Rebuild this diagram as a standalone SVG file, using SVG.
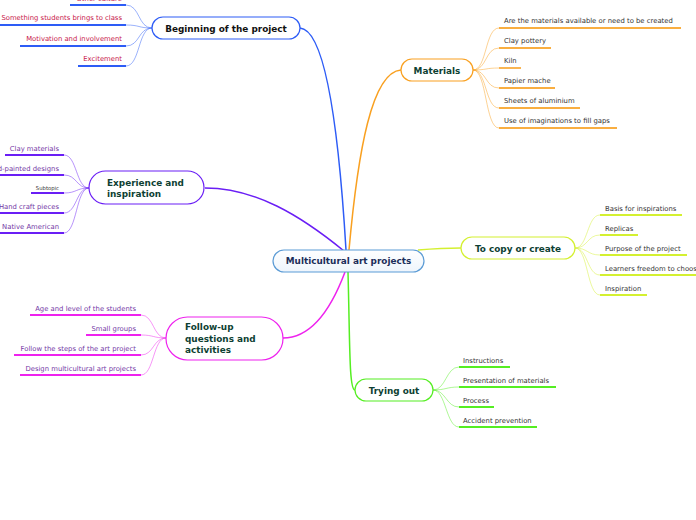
<svg xmlns="http://www.w3.org/2000/svg" width="696" height="520" viewBox="0 0 696 520">
<defs>
<linearGradient id="cg" x1="0" y1="0" x2="0" y2="1"><stop offset="0" stop-color="#ffffff"/><stop offset="1" stop-color="#eef5fc"/></linearGradient>
</defs>
<style>
text{font-family:"DejaVu Sans","Liberation Sans",sans-serif}
.nt{font-size:8.9px;font-weight:bold;fill:#0e3f33}
.st{font-size:6.85px;fill:#333}
.red{fill:#c8174a}
.pur{fill:#7438a6}
.node{fill:#fff;stroke-width:1.2}
.ul{fill:none;stroke-width:1.8}
.br{fill:none;stroke-width:1.5}
.sc{fill:none;stroke-width:0.8;opacity:0.6}
</style>
<rect width="696" height="520" fill="#fff"/>
<g id="connectors">
<path class="br" stroke="#2d5cf6" d="M346,250 C340,150 328,30 300,28"/>
<path class="br" stroke="#f9a020" d="M349,250 C358,150 372,72 401,70"/>
<path class="br" stroke="#6a1ef5" d="M344,251 C300,215 255,188 205,188"/>
<path class="br" stroke="#d4f030" d="M418,250 C430,249 442,248 461,248"/>
<path class="br" stroke="#ee22ee" d="M345,272 C330,312 310,338 283,338"/>
<path class="br" stroke="#55ee22" d="M348,272 C350,345 349,390 355,390"/>
<g stroke="#2d5cf6">
<path class="sc" d="M152,28 C138,28 140,5 126,5"/>
<path class="sc" d="M152,28 C138,28 140,25 126,25"/>
<path class="sc" d="M152,28 C138,28 140,46 126,46"/>
<path class="sc" d="M152,28 C138,28 140,66 126,66"/>
</g>
<g stroke="#f9a020">
<path class="sc" d="M473,70 C487,70 485,28 499,28"/>
<path class="sc" d="M473,70 C487,70 485,48 499,48"/>
<path class="sc" d="M473,70 C487,70 485,68 499,68"/>
<path class="sc" d="M473,70 C487,70 485,88 499,88"/>
<path class="sc" d="M473,70 C487,70 485,108 499,108"/>
<path class="sc" d="M473,70 C487,70 485,128 499,128"/>
</g>
<g stroke="#6a1ef5">
<path class="sc" d="M89,188 C76,188 77,155 64,155"/>
<path class="sc" d="M89,188 C76,188 77,175 64,175"/>
<path class="sc" d="M89,188 C76,188 77,193 64,193"/>
<path class="sc" d="M89,188 C76,188 77,213 64,213"/>
<path class="sc" d="M89,188 C76,188 77,233 64,233"/>
</g>
<g stroke="#d4f030">
<path class="sc" d="M575,248 C588,248 587,215 600,215"/>
<path class="sc" d="M575,248 C588,248 587,235 600,235"/>
<path class="sc" d="M575,248 C588,248 587,255 600,255"/>
<path class="sc" d="M575,248 C588,248 587,275 600,275"/>
<path class="sc" d="M575,248 C588,248 587,295 600,295"/>
</g>
<g stroke="#ee22ee">
<path class="sc" d="M166,338 C153,338 154,315 141,315"/>
<path class="sc" d="M166,338 C153,338 154,335 141,335"/>
<path class="sc" d="M166,338 C153,338 154,355 141,355"/>
<path class="sc" d="M166,338 C153,338 154,375 141,375"/>
</g>
<g stroke="#55ee22">
<path class="sc" d="M433,390 C446,390 446,367 459,367"/>
<path class="sc" d="M433,390 C446,390 446,387 459,387"/>
<path class="sc" d="M433,390 C446,390 446,407 459,407"/>
<path class="sc" d="M433,390 C446,390 446,427 459,427"/>
</g>
</g>
<g id="central">
<rect x="273" y="250" width="151" height="22" rx="11" fill="url(#cg)" stroke="#5b9bd5" stroke-width="1.2"/>
<text x="348.5" y="264.3" text-anchor="middle" style="font-size:8.9px;font-weight:bold;fill:#1c2e5a">Multicultural art projects</text>
</g>
<g id="beginning">
<rect class="node" x="152" y="17" width="148" height="22" rx="11" stroke="#2d5cf6"/>
<text class="nt" x="226" y="31.5" text-anchor="middle" style="fill:#111">Beginning of the project</text>
<g stroke="#2d5cf6">
<line class="ul" x1="70" y1="5" x2="126" y2="5"/>
<line class="ul" x1="0" y1="25" x2="126" y2="25"/>
<line class="ul" x1="20" y1="46" x2="126" y2="46"/>
<line class="ul" x1="78" y1="66" x2="126" y2="66"/>
</g>
<text class="st red" x="122" y="1.2" text-anchor="end">Other culture</text>
<text class="st red" x="122" y="20" text-anchor="end">Something students brings to class</text>
<text class="st red" x="122" y="41" text-anchor="end">Motivation and involvement</text>
<text class="st red" x="122" y="61" text-anchor="end">Excitement</text>
</g>
<g id="materials">
<rect class="node" x="401" y="59" width="72" height="22" rx="11" stroke="#f9a020"/>
<text class="nt" x="437" y="73.5" text-anchor="middle">Materials</text>
<g stroke="#f9a020" opacity="0.85">
<line class="ul" x1="499" y1="28" x2="681" y2="28"/>
<line class="ul" x1="499" y1="48" x2="551" y2="48"/>
<line class="ul" x1="499" y1="68" x2="521" y2="68"/>
<line class="ul" x1="499" y1="88" x2="555" y2="88"/>
<line class="ul" x1="499" y1="108" x2="580" y2="108"/>
<line class="ul" x1="499" y1="128" x2="617" y2="128"/>
</g>
<text class="st" x="504" y="23">Are the materials available or need to be created</text>
<text class="st" x="504" y="43">Clay pottery</text>
<text class="st" x="504" y="63">Kiln</text>
<text class="st" x="504" y="83">Papier mache</text>
<text class="st" x="504" y="103">Sheets of aluminium</text>
<text class="st" x="504" y="123">Use of imaginations to fill gaps</text>
</g>
<g id="experience">
<rect class="node" x="89" y="171" width="115" height="33" rx="16.5" stroke="#6a1ef5"/>
<text class="nt" x="107" y="186">Experience and</text>
<text class="nt" x="107" y="197">inspiration</text>
<g stroke="#6a1ef5">
<line class="ul" x1="5" y1="155" x2="64" y2="155"/>
<line class="ul" x1="0" y1="175" x2="64" y2="175"/>
<line class="ul" x1="31" y1="193" x2="64" y2="193"/>
<line class="ul" x1="0" y1="213" x2="64" y2="213"/>
<line class="ul" x1="0" y1="233" x2="64" y2="233"/>
</g>
<text class="st pur" x="59" y="151" text-anchor="end">Clay materials</text>
<text class="st pur" x="59" y="171" text-anchor="end">Hand-painted designs</text>
<text class="st" x="59" y="189.5" text-anchor="end" style="font-size:5.3px">Subtopic</text>
<text class="st pur" x="59" y="209" text-anchor="end">Hand craft pieces</text>
<text class="st pur" x="59" y="229" text-anchor="end">Native American</text>
</g>
<g id="copy">
<rect class="node" x="461" y="237" width="114" height="22" rx="11" stroke="#d4f030"/>
<text class="nt" x="518" y="251.5" text-anchor="middle">To copy or create</text>
<g stroke="#d4f030">
<line class="ul" x1="600" y1="215" x2="682" y2="215"/>
<line class="ul" x1="600" y1="235" x2="638" y2="235"/>
<line class="ul" x1="600" y1="255" x2="687" y2="255"/>
<line class="ul" x1="600" y1="275" x2="696" y2="275"/>
<line class="ul" x1="600" y1="295" x2="647" y2="295"/>
</g>
<text class="st" x="605" y="211">Basis for inspirations</text>
<text class="st" x="605" y="231">Replicas</text>
<text class="st" x="605" y="251">Purpose of the project</text>
<text class="st" x="605" y="271">Learners freedom to choose</text>
<text class="st" x="605" y="291">Inspiration</text>
</g>
<g id="followup">
<rect class="node" x="166" y="317" width="117" height="43" rx="21.5" stroke="#ee22ee"/>
<text class="nt" x="185" y="330">Follow-up</text>
<text class="nt" x="185" y="342">questions and</text>
<text class="nt" x="185" y="353">activities</text>
<g stroke="#ee22ee">
<line class="ul" x1="30" y1="315" x2="141" y2="315"/>
<line class="ul" x1="86" y1="335" x2="141" y2="335"/>
<line class="ul" x1="14" y1="355" x2="141" y2="355"/>
<line class="ul" x1="20" y1="375" x2="141" y2="375"/>
</g>
<text class="st pur" x="136" y="311" text-anchor="end">Age and level of the students</text>
<text class="st pur" x="136" y="331" text-anchor="end">Small groups</text>
<text class="st pur" x="136" y="351" text-anchor="end">Follow the steps of the art project</text>
<text class="st pur" x="136" y="371" text-anchor="end">Design multicultural art projects</text>
</g>
<g id="trying">
<rect class="node" x="355" y="379" width="78" height="22" rx="11" stroke="#55ee22"/>
<text class="nt" x="394" y="393.5" text-anchor="middle">Trying out</text>
<g stroke="#55ee22">
<line class="ul" x1="459" y1="367" x2="510" y2="367"/>
<line class="ul" x1="459" y1="387" x2="556" y2="387"/>
<line class="ul" x1="459" y1="407" x2="494" y2="407"/>
<line class="ul" x1="459" y1="427" x2="537" y2="427"/>
</g>
<text class="st" x="463" y="363">Instructions</text>
<text class="st" x="463" y="383">Presentation of materials</text>
<text class="st" x="463" y="403">Process</text>
<text class="st" x="463" y="423">Accident prevention</text>
</g>
</svg>
